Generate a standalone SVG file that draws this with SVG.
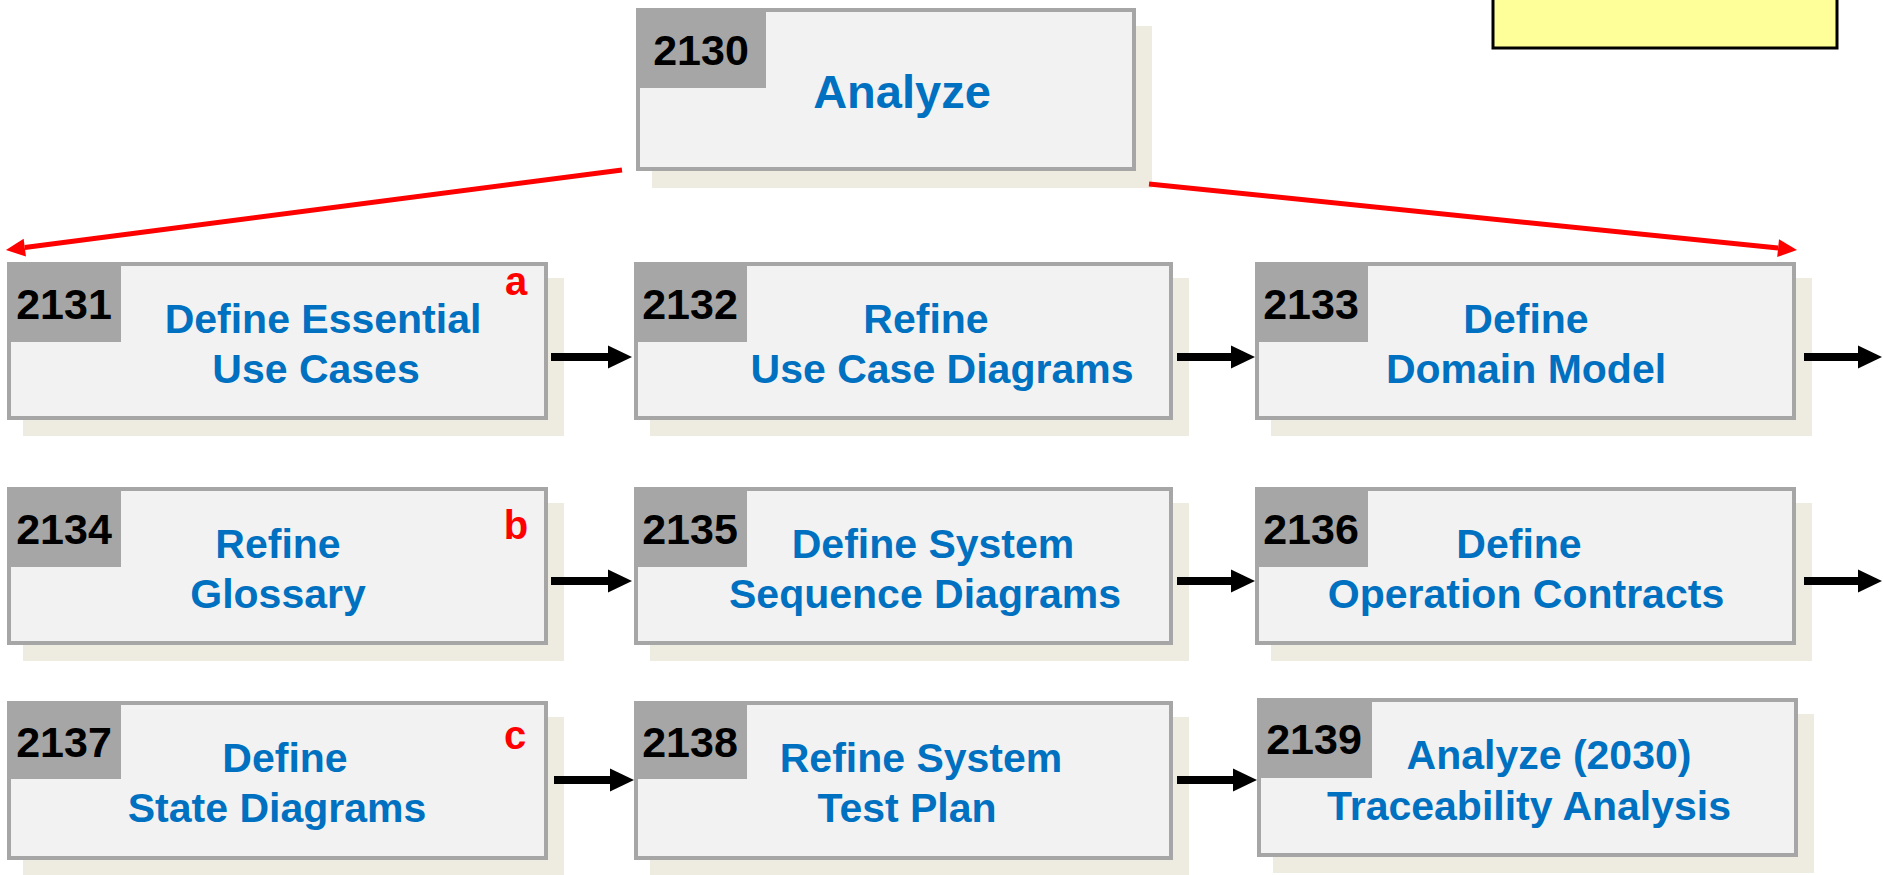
<svg xmlns="http://www.w3.org/2000/svg" width="1883" height="875" viewBox="0 0 1883 875">
<defs>
<style>
.shadow{fill:#eeece1}
.box{fill:#f2f2f2;stroke:#a6a6a6;stroke-width:4}
.lbl{fill:#a6a6a6}
.num{font-family:"Liberation Sans",Arial,sans-serif;font-weight:bold;font-size:43px;fill:#000;text-anchor:middle}
.t{font-family:"Liberation Sans",Arial,sans-serif;font-weight:bold;font-size:41px;fill:#0070c0;text-anchor:middle}
.big{font-size:47px}
.mark{font-family:"Liberation Sans",Arial,sans-serif;font-weight:bold;font-size:40px;fill:#ff0000;text-anchor:middle}
.blk{stroke:#000;stroke-width:8;fill:none;marker-end:url(#ah)}
.red{stroke:#ff0000;stroke-width:5;fill:none;marker-end:url(#rh)}
</style>
<marker id="ah" markerUnits="strokeWidth" markerWidth="3" markerHeight="2.9" refX="0" refY="1.45" orient="auto" overflow="visible"><path d="M0,0 L3,1.45 L0,2.9 z" fill="#000"/></marker>
<marker id="rh" markerUnits="strokeWidth" markerWidth="3.8" markerHeight="3.6" refX="0" refY="1.8" orient="auto" overflow="visible"><path d="M0,0 L3.8,1.8 L0,3.6 z" fill="#ff0000"/></marker>
</defs>
<rect width="1883" height="875" fill="#ffffff"/>
<g id="note"><rect x="1493" y="-5" width="344" height="53" fill="#ffff99" stroke="#000" stroke-width="3"/></g>
<g id="n2130">
<rect class="shadow" x="652" y="26" width="500" height="162"/>
<rect class="box" x="638" y="10" width="496" height="159"/>
<rect class="lbl" x="636" y="8" width="130" height="80"/>
<text class="num" x="701" y="65">2130</text>
<text class="t big" x="902" y="108">Analyze</text>
</g>
<g id="n2131">
<rect class="shadow" x="23" y="278" width="541" height="158"/>
<rect class="box" x="9" y="264" width="537" height="154"/>
<rect class="lbl" x="7" y="262" width="114" height="80"/>
<text class="num" x="64" y="319">2131</text>
<text class="t" x="323" y="333">Define Essential</text>
<text class="t" x="316" y="383">Use Cases</text>
<text class="mark" x="516" y="295">a</text>
</g>
<g id="n2132">
<rect class="shadow" x="650" y="278" width="539" height="158"/>
<rect class="box" x="636" y="264" width="535" height="154"/>
<rect class="lbl" x="634" y="262" width="113" height="80"/>
<text class="num" x="690" y="319">2132</text>
<text class="t" x="926" y="333">Refine</text>
<text class="t" x="942" y="383">Use Case Diagrams</text>
</g>
<g id="n2133">
<rect class="shadow" x="1271" y="278" width="541" height="158"/>
<rect class="box" x="1257" y="264" width="537" height="154"/>
<rect class="lbl" x="1255" y="262" width="113" height="80"/>
<text class="num" x="1311" y="319">2133</text>
<text class="t" x="1526" y="333">Define</text>
<text class="t" x="1526" y="383">Domain Model</text>
</g>
<g id="n2134">
<rect class="shadow" x="23" y="503" width="541" height="158"/>
<rect class="box" x="9" y="489" width="537" height="154"/>
<rect class="lbl" x="7" y="487" width="114" height="80"/>
<text class="num" x="64" y="544">2134</text>
<text class="t" x="278" y="558">Refine</text>
<text class="t" x="278" y="608">Glossary</text>
<text class="mark" x="516" y="539">b</text>
</g>
<g id="n2135">
<rect class="shadow" x="650" y="503" width="539" height="158"/>
<rect class="box" x="636" y="489" width="535" height="154"/>
<rect class="lbl" x="634" y="487" width="113" height="80"/>
<text class="num" x="690" y="544">2135</text>
<text class="t" x="933" y="558">Define System</text>
<text class="t" x="925" y="608">Sequence Diagrams</text>
</g>
<g id="n2136">
<rect class="shadow" x="1271" y="503" width="541" height="158"/>
<rect class="box" x="1257" y="489" width="537" height="154"/>
<rect class="lbl" x="1255" y="487" width="113" height="80"/>
<text class="num" x="1311" y="544">2136</text>
<text class="t" x="1519" y="558">Define</text>
<text class="t" x="1526" y="608">Operation Contracts</text>
</g>
<g id="n2137">
<rect class="shadow" x="23" y="717" width="541" height="159"/>
<rect class="box" x="9" y="703" width="537" height="155"/>
<rect class="lbl" x="7" y="701" width="114" height="78"/>
<text class="num" x="64" y="757">2137</text>
<text class="t" x="285" y="772">Define</text>
<text class="t" x="277" y="822">State Diagrams</text>
<text class="mark" x="515" y="749">c</text>
</g>
<g id="n2138">
<rect class="shadow" x="650" y="717" width="539" height="159"/>
<rect class="box" x="636" y="703" width="535" height="155"/>
<rect class="lbl" x="634" y="701" width="113" height="78"/>
<text class="num" x="690" y="757">2138</text>
<text class="t" x="921" y="772">Refine System</text>
<text class="t" x="907" y="822">Test Plan</text>
</g>
<g id="n2139">
<rect class="shadow" x="1273" y="714" width="541" height="159"/>
<rect class="box" x="1259" y="700" width="537" height="155"/>
<rect class="lbl" x="1257" y="698" width="115" height="80"/>
<text class="num" x="1314" y="754">2139</text>
<text class="t" x="1549" y="769">Analyze (2030)</text>
<text class="t" x="1529" y="820">Traceability Analysis</text>
</g>
<g id="connectors">
<line class="red" x1="622" y1="170" x2="24.8" y2="247.6"/>
<line class="red" x1="1149" y1="184" x2="1778.1" y2="248.1"/>
<line class="blk" x1="551" y1="357" x2="608" y2="357"/>
<line class="blk" x1="1177" y1="357" x2="1231" y2="357"/>
<line class="blk" x1="1804" y1="357" x2="1858" y2="357"/>
<line class="blk" x1="551" y1="581" x2="608" y2="581"/>
<line class="blk" x1="1177" y1="581" x2="1231" y2="581"/>
<line class="blk" x1="1804" y1="581" x2="1858" y2="581"/>
<line class="blk" x1="554" y1="780" x2="610" y2="780"/>
<line class="blk" x1="1177" y1="780" x2="1233" y2="780"/>
</g>
</svg>
